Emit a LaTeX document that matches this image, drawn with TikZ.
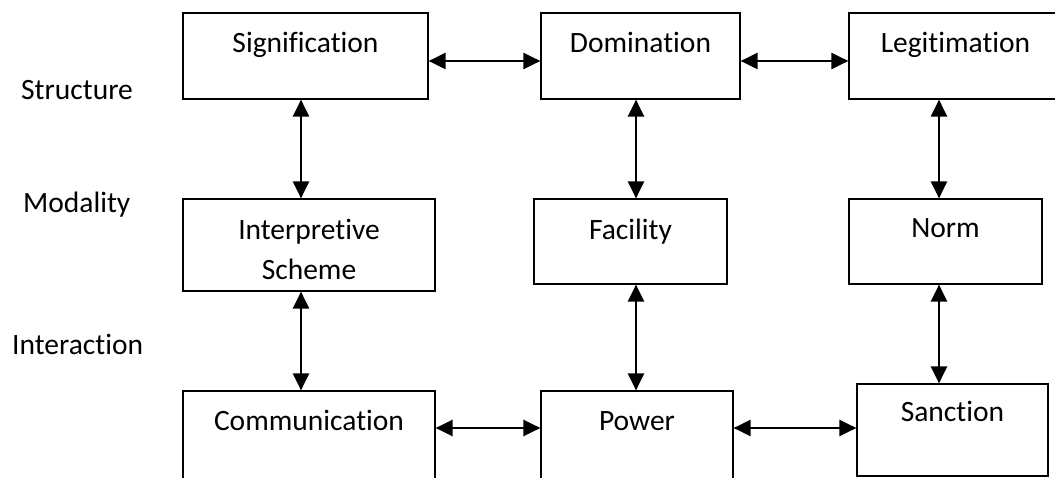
\documentclass[tikz,border=0pt]{standalone}
\usepackage{fontspec}
\setmainfont[RawFeature={-liga;-clig;-dlig}]{Carlito}
\usetikzlibrary{arrows.meta}
\begin{document}
\begin{tikzpicture}[x=1pt,y=1pt,
  box/.style={draw, line width=1.2pt, rectangle, inner sep=0pt},
  lbl/.style={anchor=base, inner sep=0pt, font=\fontsize{29.5}{40}\selectfont},
  side/.style={anchor=base west, inner sep=0pt, font=\fontsize{29.5}{40}\selectfont},
  tipx/.tip={Triangle[length=17pt 0,width=16pt 0]},
  arr/.style={line width=2.4pt, tipx-tipx}]
\useasboundingbox (0,0) rectangle (1055,-478);
\clip (0,0) rectangle (1055,-478);
% row / column guides
\coordinate (colA) at (301,0);
\coordinate (colB) at (636,0);
\coordinate (colC) at (939,0);
\coordinate (rowT) at (0,-61);
\coordinate (rowB) at (0,-428);
% side labels
\node[side] (structure) at (21,-100) {Structure};
\node[side] (modality) at (23,-213) {Modality};
\node[side] (interaction) at (12,-354) {Interaction};
% boxes
\node[box, minimum width=245pt, minimum height=86pt] (sig) at (305.5,-56) {};
\node[box, minimum width=199pt, minimum height=86pt] (dom) at (640.5,-56) {};
\node[box, minimum width=213pt, minimum height=86pt] (leg) at (955.5,-56) {};
\node[box, minimum width=252pt, minimum height=92pt] (int) at (309,-245) {};
\node[box, minimum width=193pt, minimum height=85pt] (fac) at (630.5,-241.5) {};
\node[box, minimum width=193pt, minimum height=85pt] (norm) at (945.5,-241.5) {};
\node[box, minimum width=252pt, minimum height=96pt] (com) at (309,-439) {};
\node[box, minimum width=192pt, minimum height=96pt] (pow) at (637,-439) {};
\node[box, minimum width=191pt, minimum height=92pt] (san) at (952.5,-430) {};
% box texts
\node[lbl] (sigT) at ([yshift=-40pt]sig.north) {Signification};
\node[lbl] (domT) at ([yshift=-40pt]dom.north) {Domination};
\node[lbl] (legT) at ([yshift=-40pt]leg.north) {Legitimation};
\node[lbl] (intT) at ([yshift=-41pt]int.north) {Interpretive};
\node[lbl] (intS) at ([yshift=-81pt]int.north) {Scheme};
\node[lbl] (facT) at ([yshift=-41pt]fac.north) {Facility};
\node[lbl] (normT) at ([yshift=-39pt]norm.north) {Norm};
\node[lbl] (comT) at ([yshift=-40pt]com.north) {Communication};
\node[lbl] (powT) at ([yshift=-40pt]pow.north) {Power};
\node[lbl] (sanT) at ([yshift=-38pt]san.north) {Sanction};
% horizontal connectors
\draw[arr] (sig.east |- rowT) -- (dom.west |- rowT);
\draw[arr] (dom.east |- rowT) -- (leg.west |- rowT);
\draw[arr] (com.east |- rowB) -- (pow.west |- rowB);
\draw[arr] (pow.east |- rowB) -- (san.west |- rowB);
% vertical connectors
\draw[arr] (sig.south -| colA) -- (int.north -| colA);
\draw[arr] (int.south -| colA) -- (com.north -| colA);
\draw[arr] (dom.south -| colB) -- (fac.north -| colB);
\draw[arr] (fac.south -| colB) -- (pow.north -| colB);
\draw[arr] (leg.south -| colC) -- (norm.north -| colC);
\draw[arr] (norm.south -| colC) -- (san.north -| colC);
\end{tikzpicture}
\end{document}
